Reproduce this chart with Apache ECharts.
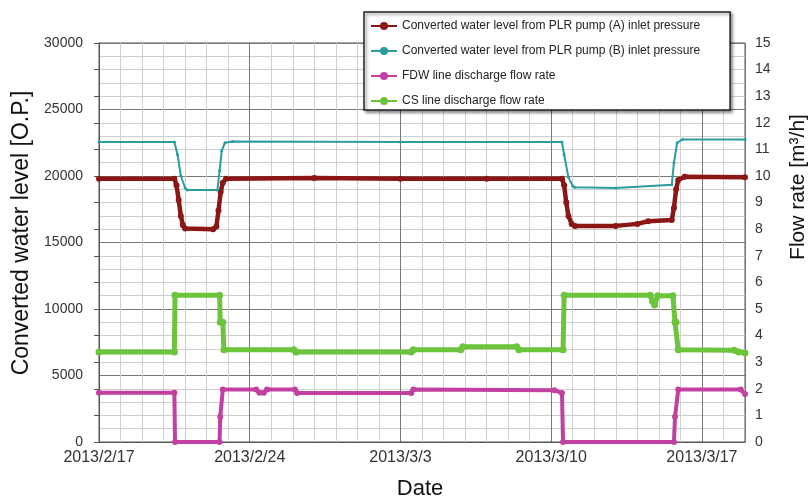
<!DOCTYPE html>
<html>
<head>
<meta charset="utf-8">
<script src="https://cdn.jsdelivr.net/npm/echarts@6/dist/echarts.min.js"></script>
<style>
  html, body { margin: 0; padding: 0; background: #fff; }
  #chart { width: 809px; height: 502px; }
</style>
</head>
<body>
<div id="chart"></div>
<script>
// Day offsets are counted from 2013/2/17 00:00.
const dateLabels = ['2013/2/17', '2013/2/24', '2013/3/3', '2013/3/10', '2013/3/17'];

const seriesNames = [
  'Converted water level from PLR pump (A) inlet pressure',
  'Converted water level from PLR pump (B) inlet pressure',
  'FDW line discharge flow rate',
  'CS line discharge flow rate'
];

// Converted water level, pump A [O.P.]
const levelA = [
  [0, 19800], [3.5, 19800], [3.6, 19300], [3.7, 18200], [3.8, 17000], [3.9, 16300],
  [4.0, 16050], [5.3, 16000], [5.45, 16200], [5.55, 17400], [5.65, 18800], [5.75, 19500],
  [5.9, 19800], [10, 19850], [14, 19800], [18, 19800], [21.5, 19800], [21.6, 19300],
  [21.7, 18000], [21.8, 17000], [21.95, 16400], [22.1, 16250], [24, 16250], [25, 16400],
  [25.5, 16600], [26.6, 16700], [26.7, 17600], [26.8, 19000], [26.9, 19700], [27.2, 19950],
  [30, 19900]
];

// Converted water level, pump B [O.P.]
const levelB = [
  [0, 22550], [3.5, 22550], [3.65, 21600], [3.8, 20000], [4.0, 19100], [4.1, 18950],
  [5.5, 18950], [5.6, 20400], [5.7, 21900], [5.85, 22500], [6.2, 22600], [14, 22550],
  [21.5, 22550], [21.6, 21600], [21.8, 19900], [22.0, 19250], [22.1, 19150], [24, 19100],
  [26.6, 19350], [26.7, 21000], [26.85, 22500], [27.1, 22750], [30, 22750]
];

// FDW line discharge flow rate [m3/h]
const flowFDW = [
  [0, 1.85], [3.5, 1.85], [3.53, 0], [5.6, 0], [5.63, 0.95], [5.75, 1.97], [7.3, 1.97],
  [7.45, 1.85], [7.65, 1.85], [7.8, 1.97], [9.1, 1.97], [9.2, 1.84], [14.5, 1.84],
  [14.6, 1.97], [21.15, 1.95], [21.5, 1.84], [21.55, 0], [26.7, 0], [26.75, 0.95],
  [26.9, 1.97], [29.8, 1.97], [30, 1.8]
];

// CS line discharge flow rate [m3/h]
const flowCS = [
  [0, 3.38], [3.5, 3.38], [3.53, 5.52], [5.6, 5.52], [5.63, 4.5], [5.75, 4.5], [5.8, 3.47],
  [9.05, 3.47], [9.15, 3.38], [14.5, 3.38], [14.6, 3.47], [16.8, 3.47], [16.9, 3.58],
  [19.4, 3.58], [19.5, 3.47], [21.55, 3.47], [21.6, 5.52], [25.6, 5.52], [25.7, 5.3],
  [25.8, 5.15], [25.95, 5.5], [26.65, 5.5], [26.75, 4.5], [26.8, 4.5], [26.9, 3.47],
  [29.5, 3.45], [29.7, 3.38], [30, 3.35]
];

const colors = ['#8b1616', '#2b9d9e', '#c2409f', '#6cc43c'];
const FONT = '"Liberation Sans", Arial, sans-serif';

const chart = echarts.init(document.getElementById('chart'), null, { renderer: 'canvas' });

function lineSeries(i, data, yIdx, width, symSize) {
  return {
    name: seriesNames[i],
    type: 'line',
    xAxisIndex: 1,
    yAxisIndex: yIdx,
    data: data,
    symbol: 'circle',
    symbolSize: symSize,
    showSymbol: true,
    color: colors[i],
    lineStyle: { width: width, color: colors[i] },
    itemStyle: { color: colors[i] },
    animation: false,
    z: 3 + i
  };
}

chart.setOption({
  backgroundColor: '#ffffff',
  animation: false,
  grid: {
    left: 99, right: 64, top: 43, bottom: 60,
    show: true, borderColor: '#555', borderWidth: 1, backgroundColor: '#ffffff'
  },
  legend: {
    orient: 'vertical',
    left: 364, top: 12,
    padding: [8, 30, 3, 6],
    itemGap: 13,
    itemWidth: 26, itemHeight: 10,
    backgroundColor: '#ffffff',
    borderColor: '#222', borderWidth: 1.5,
    shadowColor: 'rgba(0,0,0,0.45)', shadowBlur: 3, shadowOffsetX: 2, shadowOffsetY: 2,
    textStyle: { fontFamily: FONT, fontSize: 12, color: '#222' },
    data: seriesNames
  },
  xAxis: [
    {
      // daily grid lines
      type: 'value', min: 0, max: 30, interval: 1,
      axisLine: { show: false }, axisTick: { show: false }, axisLabel: { show: false },
      splitLine: { show: true, lineStyle: { color: '#cfcfcf', width: 1 } }
    },
    {
      // weekly grid lines and date labels
      type: 'value', min: 0, max: 30, interval: 7, position: 'bottom',
      axisLine: { show: true, lineStyle: { color: '#555' } },
      axisTick: { show: false },
      axisLabel: {
        margin: 8, fontFamily: FONT, fontSize: 16, color: '#333',
        showMaxLabel: false,
        formatter: v => (v % 7 === 0 ? (dateLabels[v / 7] || '') : '')
      },
      splitLine: { show: true, lineStyle: { color: '#777', width: 1 } }
    }
  ],
  yAxis: [
    {
      type: 'value', min: 0, max: 30000, interval: 5000,
      axisLine: { show: true, lineStyle: { color: '#555' } },
      axisTick: { show: false },
      axisLabel: {
        margin: 16, fontFamily: FONT, fontSize: 14, color: '#333',
        formatter: v => String(v)
      },
      splitLine: { show: true, lineStyle: { color: '#777', width: 1 } },
      minorTick: { show: false, splitNumber: 5, length: 0 },
      minorSplitLine: { show: true, lineStyle: { color: '#cfcfcf', width: 1 } }
    },
    {
      type: 'value', min: 0, max: 15, interval: 1, position: 'right',
      axisLine: { show: true, lineStyle: { color: '#555' } },
      axisTick: { show: true, inside: true, length: 5, lineStyle: { color: '#555' } },
      axisLabel: { margin: 10, fontFamily: FONT, fontSize: 14, color: '#333' },
      splitLine: { show: false }
    }
  ],
  graphic: [
    {
      type: 'text', x: 22, y: 233, rotation: Math.PI / 2,
      style: {
        text: 'Converted water level [O.P.]', fill: '#111',
        font: '23px ' + FONT, align: 'center', verticalAlign: 'middle'
      }
    },
    {
      type: 'text', x: 798, y: 187, rotation: Math.PI / 2,
      style: {
        text: 'Flow rate [m³/h]', fill: '#111',
        font: '21px ' + FONT, align: 'center', verticalAlign: 'middle'
      }
    },
    {
      type: 'text', x: 420, y: 489,
      style: {
        text: 'Date', fill: '#111',
        font: '22px ' + FONT, align: 'center', verticalAlign: 'middle'
      }
    }
  ],
  series: [
    lineSeries(0, levelA, 0, 4.5, 6),
    lineSeries(1, levelB, 0, 2, 3),
    lineSeries(2, flowFDW, 1, 4, 6),
    lineSeries(3, flowCS, 1, 5, 7)
  ]
});
</script>
</body>
</html>
